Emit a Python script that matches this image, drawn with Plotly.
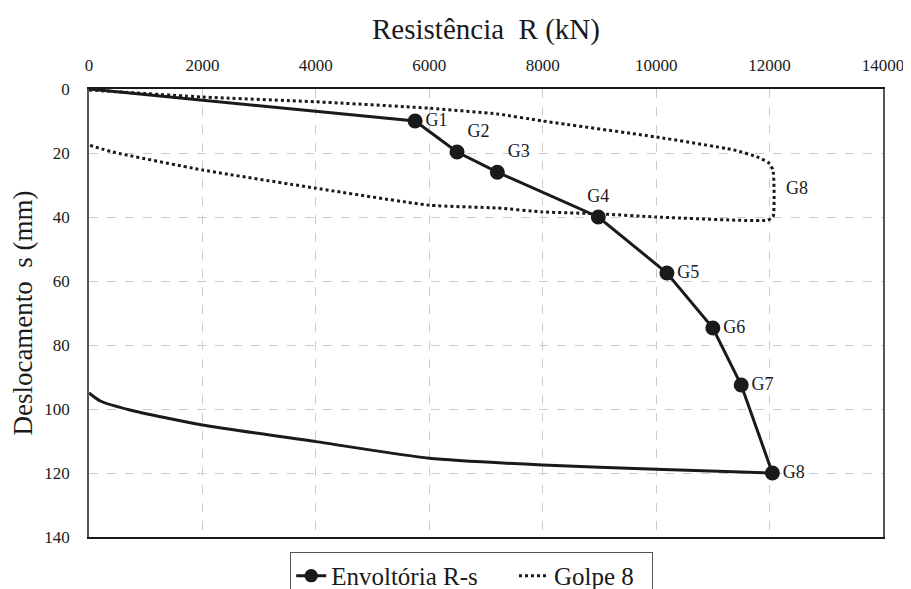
import plotly.graph_objects as go

# Envelope (loading) points: origin + G1..G8
env_R = [0, 5750, 6490, 7200, 8980, 10190, 11000, 11500, 12050]
env_s = [0, 10, 19.7, 26, 40, 57.5, 74.7, 92.5, 120]
env_labels = ["", "G1", "G2", "G3", "G4", "G5", "G6", "G7", "G8"]
env_label_pos = ["middle right", "middle right", "top right", "top right", "top center",
                 "middle right", "middle right", "middle right", "middle right"]

# Unloading branch of the envelope (after G8)
unl_R = [12050, 10000, 8000, 6000, 4000, 2000, 720, 200, 0]
unl_s = [120, 118.8, 117.5, 115.4, 110.2, 105, 100.3, 97.5, 95]

# Golpe 8 loop
g8_R = [0, 2000, 4000, 6000, 7200, 8000, 10000, 11360, 11780, 11980, 12060, 12060, 11960,
        10000, 9000, 8000, 7200, 6000, 4000, 2000, 420, 0]
g8_s = [0.3, 2.5, 4, 6, 7.8, 10, 15, 19, 21.2, 23, 25.3, 40, 41,
        40, 39, 38.4, 37.2, 36.3, 31, 25.3, 19.7, 17.5]
g8_label = "G8"
g8_label_R = 12250
g8_label_s = 31

x_ticks = [0, 2000, 4000, 6000, 8000, 10000, 12000, 14000]
y_ticks = [0, 20, 40, 60, 80, 100, 120, 140]

FONT = "Times New Roman"
INK = "#1a1a1a"
NB = "\u00a0"

fig = go.Figure()

fig.add_trace(go.Scatter(
    x=env_R, y=env_s, mode="lines+markers+text", name="Envoltória R-s" + NB * 5,
    line=dict(color=INK, width=3),
    marker=dict(size=[0, 15, 15, 15, 15, 15, 15, 15, 15], color=INK, opacity=1,
                line=dict(width=0)),
    text=env_labels, textposition=env_label_pos,
    textfont=dict(family=FONT, size=18, color=INK),
))
fig.add_trace(go.Scatter(
    x=unl_R, y=unl_s, mode="lines", showlegend=False,
    line=dict(color=INK, width=3, shape="spline", smoothing=0.6),
))
fig.add_trace(go.Scatter(
    x=g8_R, y=g8_s, mode="lines", name="Golpe 8" + NB * 2,
    line=dict(color=INK, width=3, dash="dot", shape="spline", smoothing=0.5),
))
fig.add_annotation(x=g8_label_R, y=g8_label_s, text=g8_label, showarrow=False,
                   xanchor="left", font=dict(family=FONT, size=18, color=INK))

fig.update_layout(
    width=911, height=589,
    margin=dict(l=81, r=36, t=81, b=60),
    paper_bgcolor="white", plot_bgcolor="white",
    font=dict(family=FONT, color=INK),
    legend=dict(orientation="h", xref="container", yref="container",
                x=0.509, xanchor="center", y=0.0765, yanchor="top",
                bordercolor="#555", borderwidth=1, font=dict(family=FONT, size=25),
                tracegroupgap=0),
    xaxis=dict(side="top", range=[0, 14000], tickvals=x_ticks, tickformat="d",
               tickfont=dict(family=FONT, size=17), ticklabelstandoff=9,
               title=dict(text="Resistência  R (kN)", font=dict(family=FONT, size=29), standoff=8),
               showgrid=True, gridcolor="#cccccc", griddash="dash", gridwidth=1,
               showline=True, linecolor=INK, linewidth=1.5, mirror=True,
               zeroline=False, ticks="", automargin=False),
    yaxis=dict(range=[140, 0], tickvals=y_ticks,
               tickfont=dict(family=FONT, size=17), ticklabelstandoff=14,
               title=dict(text="Deslocamento  s (mm)", font=dict(family=FONT, size=27), standoff=4),
               showgrid=True, gridcolor="#cccccc", griddash="dash", gridwidth=1,
               showline=True, linecolor="#555", linewidth=1.5, mirror=True,
               zeroline=False, ticks="", automargin=False),
)

fig.write_html("out.html")
